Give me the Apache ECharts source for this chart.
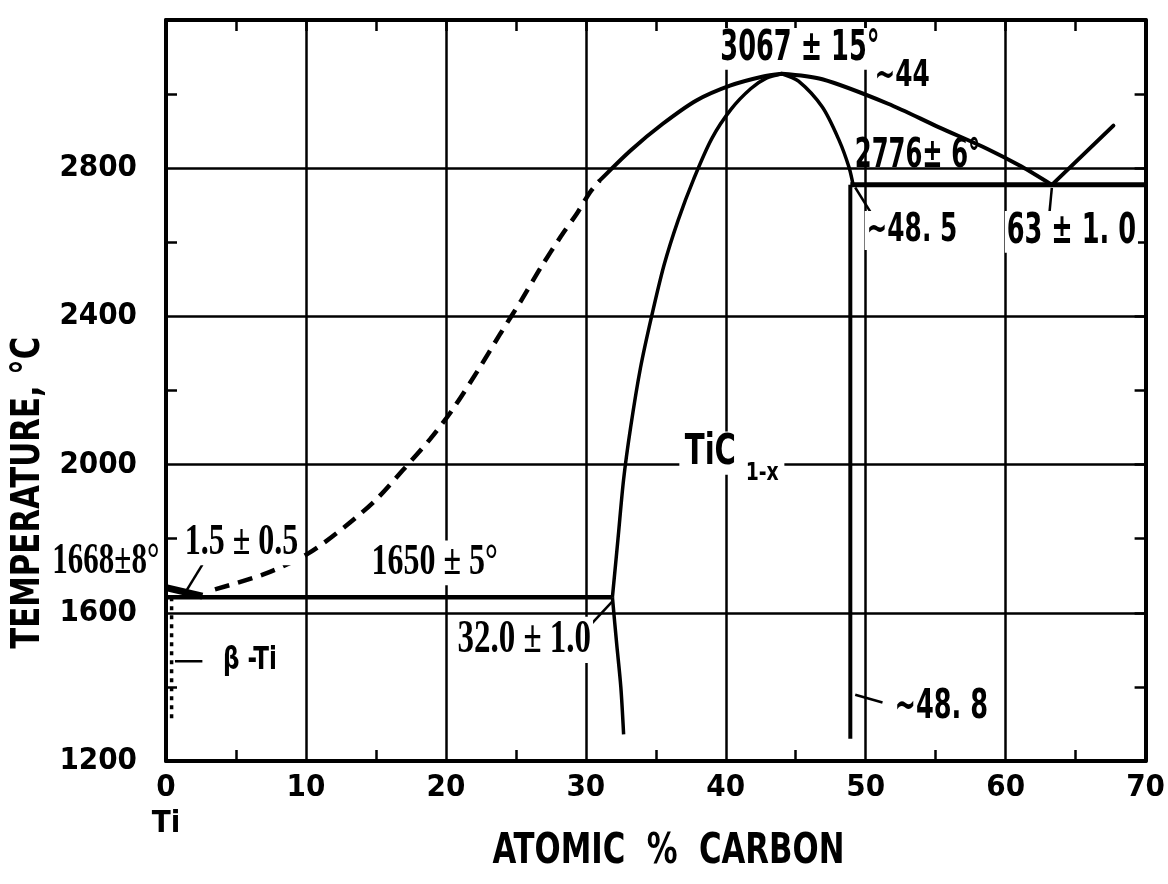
<!DOCTYPE html>
<html>
<head>
<meta charset="utf-8">
<script src="https://cdn.jsdelivr.net/npm/echarts@6/dist/echarts.min.js"></script>
<style>
  html, body { margin: 0; padding: 0; background: #fff; }
  #chart { width: 1168px; height: 884px; }
</style>
</head>
<body>
<div id="chart"></div>
<script>
// Ti–C phase diagram (x = atomic % C, y = °C)
var xTicks = [0, 10, 20, 30, 40, 50, 60, 70];
var yTicks = [1200, 1600, 2000, 2400, 2800];

// liquidus on the Ti side (estimated part is dashed)
var liqTiDashed = [[3.5, 1663], [7.2, 1707], [10.2, 1761], [12.8, 1833], [15.0, 1905], [16.9, 1984],
  [18.9, 2070], [20.5, 2150], [22.3, 2255], [23.9, 2354], [25.4, 2444], [26.8, 2533], [28.2, 2615],
  [29.4, 2680], [30.3, 2735], [31.0, 2767]];
var liqTiSolid = [[31.0, 2767], [33.2, 2848], [35.5, 2920], [37.9, 2983], [40.3, 3023], [42.6, 3047], [44.0, 3055]];
// liquidus on the C side, down to the eutectic, and the graphite liquidus going up again
var liqC = [[44.0, 3055], [46.9, 3040], [51.6, 2974], [55.2, 2911], [58.7, 2852], [61.1, 2805], [63.3, 2755]];
var liqGraphite = [[63.3, 2755], [67.7, 2915]];
// TiC(1-x) phase boundaries
var ticLeftHigh = [[31.9, 1642], [32.3, 1800], [32.7, 1960], [33.2, 2100], [33.9, 2260], [34.7, 2400],
  [35.6, 2540], [36.6, 2660], [37.7, 2770], [39.0, 2880], [40.4, 2960], [41.8, 3015], [42.9, 3043], [44.0, 3055]];
var ticLeftLow = [[31.9, 1642], [32.2, 1518], [32.5, 1400], [32.7, 1272]];
var ticRightHigh = [[44.0, 3055], [45.2, 3035], [46.9, 2965], [48.1, 2875], [48.8, 2803], [49.1, 2755]];
var ticRightLow = [[48.9, 2755], [48.9, 1260]];
// invariant lines
var eutecticLine = [[48.9, 2755], [70, 2755]];
var peritecticLine = [[0, 1642], [31.9, 1642]];
var tiMelt = [[0, 1668], [2.6, 1645]];
var betaTiEdge = [[0.4, 1642], [0.4, 1310]];
// little leader strokes from labels to points
var leaders = [
  [[2.6, 1730], [1.35, 1653]],
  [[0.64, 1469], [2.6, 1469]],
  [[31.9, 1631], [30.45, 1572]],
  [[49.25, 2748], [50.4, 2678]],
  [[63.3, 2747], [63.1, 2668]],
  [[49.25, 1379], [51.2, 1358]]
];

var SANS = '"Liberation Sans Narrow", "DejaVu Sans Condensed", "Roboto", sans-serif';
var SERIF = '"Liberation Serif", "DejaVu Serif", serif';

// annotations: text, anchor [x, y] in data units, family, size, stretch, white mask behind
var notes = [
  { t: '3067 ± 15°', at: [45.3, 3122], f: SANS, s: 31, sx: 0.92, sy: 1.35, bg: true },
  { t: '~44', at: [52.6, 3049], f: SANS, s: 30, sx: 0.92, sy: 1.25, bg: false },
  { t: '2776± 6°', at: [53.7, 2832], f: SANS, s: 30, sx: 0.9, sy: 1.35, bg: false },
  { t: '~48. 5', at: [53.3, 2632], f: SANS, s: 30, sx: 0.92, sy: 1.3, bg: true },
  { t: '63 ± 1. 0', at: [64.7, 2628], f: SANS, s: 31, sx: 0.92, sy: 1.35, bg: true },
  { t: '~48. 8', at: [55.4, 1344], f: SANS, s: 31, sx: 0.92, sy: 1.3, bg: true },
  { t: 'TiC', at: [38.9, 2031], f: SANS, s: 36, sx: 0.9, sy: 1.2, bg: true, pad: 6 },
  { t: '1-x', at: [42.6, 1975], f: SANS, s: 22, sx: 0.95, sy: 1.1, bg: true, pad: 6 },
  { t: '1650 ± 5°', at: [19.2, 1735], f: SERIF, s: 32, sx: 1, sy: 1.4, bg: true },
  { t: '32.0 ± 1.0', at: [25.6, 1527], f: SERIF, s: 33, sx: 1, sy: 1.4, bg: true },
  { t: '1.5 ± 0.5', at: [5.4, 1789], f: SERIF, s: 32, sx: 1, sy: 1.4, bg: true },
  { t: '1668±8°', at: [-4.3, 1738], f: SERIF, s: 31, sx: 1, sy: 1.4, bg: false },
  { t: 'β -Ti', at: [6.0, 1469], f: SANS, s: 27, sx: 0.95, sy: 1.15, bg: true }
];

function curve(data, extra) {
  var s = {
    type: 'line', data: data, symbol: 'none', silent: true, animation: false,
    lineStyle: { color: '#000', width: 4, cap: 'round' }, z: 5
  };
  for (var k in extra) s[k] = extra[k];
  return s;
}

var series = [
  curve(liqTiDashed, { smooth: 0.3, lineStyle: { color: '#000', width: 4.5, type: [15, 9] } }),
  curve(liqTiSolid, { smooth: 0.3 }),
  curve(liqC, { smooth: 0.3 }),
  curve(liqGraphite),
  curve(ticLeftHigh, { smooth: 0.3, lineStyle: { color: '#000', width: 3.5 } }),
  curve(ticLeftLow, { smooth: 0.3, lineStyle: { color: '#000', width: 3.5 } }),
  curve(ticRightHigh, { smooth: 0.3, lineStyle: { color: '#000', width: 3.5 } }),
  // the frame axes (top / right) share the same range, so this line also feeds them
  curve(ticRightLow, { xAxisIndex: 1, yAxisIndex: 1, lineStyle: { color: '#000', width: 4 } }),
  curve(eutecticLine, { lineStyle: { color: '#000', width: 5 } }),
  curve(peritecticLine, { lineStyle: { color: '#000', width: 4.5 } }),
  curve(tiMelt, { lineStyle: { color: '#000', width: 7 } }),
  curve(betaTiEdge, { lineStyle: { color: '#000', width: 3.5, type: [4, 5] } })
];
leaders.forEach(function (seg) {
  series.push(curve(seg, { lineStyle: { color: '#000', width: 2.5 } }));
});

var frameLine = { show: true, onZero: false, lineStyle: { color: '#000', width: 4 } };
var tickStyle = { color: '#000', width: 2.5 };

var chart = echarts.init(document.getElementById('chart'), null, { renderer: 'canvas' });
chart.setOption({
  backgroundColor: '#fff',
  animation: false,
  grid: { left: 166, right: 16, top: 20, bottom: 123, containLabel: false },
  xAxis: [
    {
      type: 'value', position: 'bottom', min: xTicks[0], max: xTicks[xTicks.length - 1], interval: 10,
      axisLine: frameLine,
      axisTick: { show: false, inside: true },
      minorTick: { show: true, splitNumber: 2, length: 11, lineStyle: tickStyle },
      splitLine: { show: true, lineStyle: { color: '#000', width: 2.5 } },
      axisLabel: {
        margin: 9, color: '#000', fontFamily: SANS, fontSize: 31, fontWeight: 'bold', lineHeight: 36,
        formatter: function (v) { return v === 0 ? '0\nTi' : (xTicks.indexOf(v) >= 0 ? String(v) : ''); }
      }
    },
    {
      // top frame: a tick every 5 %
      type: 'value', position: 'top', min: 0, max: 70, interval: 5,
      axisLine: frameLine,
      axisTick: { show: true, inside: true, length: 11, lineStyle: tickStyle },
      splitLine: { show: false },
      axisLabel: { show: false }
    }
  ],
  yAxis: [
    {
      type: 'value', position: 'left', min: 1200, max: 3200, interval: 400,
      axisLine: frameLine,
      axisTick: { show: false, inside: true },
      minorTick: { show: true, splitNumber: 2, length: 11, lineStyle: tickStyle },
      splitLine: { show: true, lineStyle: { color: '#000', width: 2.5 } },
      axisLabel: {
        margin: 29, color: '#000', fontFamily: SANS, fontSize: 31, fontWeight: 'bold',
        formatter: function (v) { return yTicks.indexOf(v) >= 0 ? String(v) : ''; }
      }
    },
    {
      // right frame: a tick every 200 °C
      type: 'value', position: 'right', min: 1200, max: 3200, interval: 200,
      axisLine: frameLine,
      axisTick: { show: true, inside: true, length: 11, lineStyle: tickStyle },
      splitLine: { show: false },
      axisLabel: { show: false }
    }
  ],
  series: series
});

function px(p) { return chart.convertToPixel({ xAxisIndex: 0, yAxisIndex: 0 }, p); }

var graphics = notes.map(function (n) {
  var p = px(n.at);
  var style = {
    text: n.t, x: 0, y: 0, align: 'center', verticalAlign: 'middle',
    font: 'bold ' + n.s + 'px ' + n.f, fill: '#000'
  };
  if (n.bg) { style.backgroundColor = '#fff'; style.padding = [0, n.pad || 2]; }
  return { type: 'text', x: p[0], y: p[1], scaleX: n.sx, scaleY: n.sy, z: 20, silent: true, style: style };
});
var yName = px([-9.8, 1924]);
graphics.push({
  type: 'text', x: yName[0], y: yName[1], rotation: Math.PI / 2, scaleX: 0.95, scaleY: 1.1, silent: true,
  style: { text: 'TEMPERATURE, °C', x: 0, y: 0, align: 'center', verticalAlign: 'middle',
    font: 'bold 36px ' + SANS, fill: '#000' }
});
var xName = px([35.9, 956]);
graphics.push({
  type: 'text', x: xName[0], y: xName[1], scaleX: 0.95, scaleY: 1.2, silent: true,
  style: { text: 'ATOMIC  %  CARBON', x: 0, y: 0, align: 'center', verticalAlign: 'middle',
    font: 'bold 36px ' + SANS, fill: '#000' }
});
chart.setOption({ graphic: graphics });
</script>
</body>
</html>
